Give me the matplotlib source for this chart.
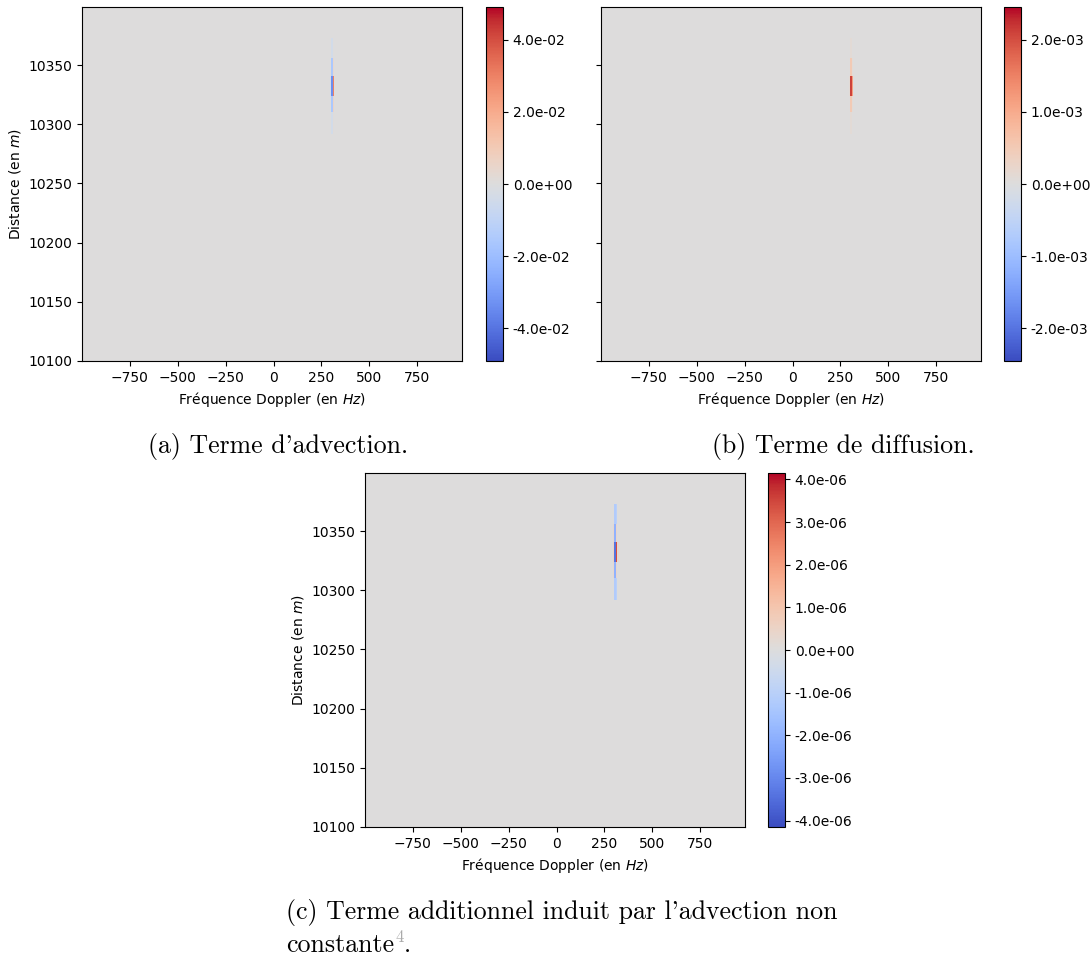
import numpy as np
import matplotlib
matplotlib.use("Agg")
import matplotlib.pyplot as plt
from matplotlib.ticker import FormatStrFormatter

# --------------------------------------------------
# DATA (range x doppler cells, only the stripe is non zero)
# --------------------------------------------------

doppler_edges = [-1000, 295, 302, 310, 318, 324, 984]
range_edges = [10100, 10292, 10310, 10324, 10341, 10356, 10373, 10400]

advection = [
    [0, 0, 0, 0, 0, 0],
    [0, 0, -0.004, 0.001, 0, 0],
    [0, 0, -0.016, 0.006, 0, 0],
    [0, -0.004, -0.034, 0.03, 0, 0],
    [0, 0, -0.016, 0.004, 0, 0],
    [0, 0, -0.004, 0, 0, 0],
    [0, 0, 0, 0, 0, 0],
]

diffusion = [
    [0, 0, 0, 0, 0, 0],
    [0, 0, 0.0001, 0, 0, 0],
    [0, 0, 0.0005, 0.0001, 0, 0],
    [0, 0.0001, 0.0021, 0.0012, 0, 0],
    [0, 0, 0.0005, 0.0001, 0, 0],
    [0, 0, 0.0001, 0, 0, 0],
    [0, 0, 0, 0, 0, 0],
]

additionnel = [
    [0, 0, 0, 0, 0, 0],
    [0, 0, -1.2e-06, -1.0e-06, 0, 0],
    [0, 0.3e-06, -2.0e-06, 0.4e-06, 0, 0],
    [0, 0.5e-06, -3.4e-06, 3.4e-06, 0.3e-06, 0],
    [0, 0.3e-06, -2.0e-06, 0.4e-06, 0, 0],
    [0, 0, -1.2e-06, -1.0e-06, 0, 0],
    [0, 0, 0, 0, 0, 0],
]

vmax_a, ticks_a = 0.049, [-0.04, -0.02, 0, 0.02, 0.04]
vmax_b, ticks_b = 0.00245, [-0.002, -0.001, 0, 0.001, 0.002]
vmax_c, ticks_c = 4.15e-06, [-4e-06, -3e-06, -2e-06, -1e-06, 0, 1e-06, 2e-06, 3e-06, 4e-06]

captions = ["(a) Terme d'advection.", "(b) Terme de diffusion."]

# --------------------------------------------------
# FIGURE
# --------------------------------------------------

W, H = 1091, 958
fig = plt.figure(figsize=(W / 100, H / 100), dpi=100)


def px_axes(x0, y0, x1, y1):
    return fig.add_axes([x0 / W, 1 - y1 / H, (x1 - x0) / W, (y1 - y0) / H])


def panel(ax, cax, values, vmax, ticks, ylabels=True):
    mesh = ax.pcolormesh(doppler_edges, range_edges, np.array(values),
                         cmap="coolwarm", vmin=-vmax, vmax=vmax)
    ax.set_xlim(-1000, 984)
    ax.set_ylim(10100, 10399)
    ax.set_xticks([-750, -500, -250, 0, 250, 500, 750])
    ax.set_yticks([10100, 10150, 10200, 10250, 10300, 10350])
    ax.set_xlabel("Fréquence Doppler (en $Hz$)")
    if ylabels:
        ax.set_ylabel("Distance (en $m$)")
    else:
        ax.set_yticklabels([])
    cb = fig.colorbar(mesh, cax=cax, ticks=ticks)
    cb.ax.yaxis.set_major_formatter(FormatStrFormatter("%.1e"))
    return cb


ax_a = px_axes(82, 7, 462, 361)
cax_a = px_axes(486, 7, 503, 361)
panel(ax_a, cax_a, advection, vmax_a, ticks_a)

ax_b = px_axes(601, 7, 981, 361)
cax_b = px_axes(1004, 7, 1021, 361)
panel(ax_b, cax_b, diffusion, vmax_b, ticks_b, ylabels=False)

ax_c = px_axes(365, 473, 745, 827)
cax_c = px_axes(768, 473, 785, 827)
panel(ax_c, cax_c, additionnel, vmax_c, ticks_c)

# --------------------------------------------------
# CAPTIONS
# --------------------------------------------------

cap = dict(fontfamily="cmr10", fontsize=18.6, va="baseline")
fig.text(148 / W, 1 - 453 / H, captions[0], **cap)
fig.text(712 / W, 1 - 453 / H, captions[1], **cap)
fig.text(286 / W, 1 - 919 / H, "(c) Terme additionnel induit par l'advection non", **cap)
fig.text(286 / W, 1 - 952 / H, "constante", **cap)
fig.text(395 / W, 1 - 942 / H, "4", color="#aaaaaa", fontfamily="cmr10",
         fontsize=12, va="baseline")
fig.text(404 / W, 1 - 952 / H, ".", **cap)

fig.savefig("out.png", dpi=100)
